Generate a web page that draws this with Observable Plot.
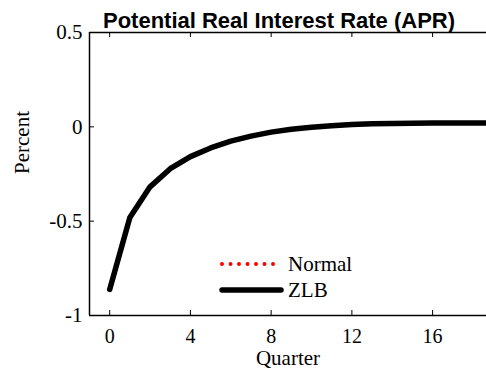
<!DOCTYPE html>
<html><head><meta charset="utf-8">
<script src="https://cdn.jsdelivr.net/npm/d3@7"></script>
<script src="https://cdn.jsdelivr.net/npm/@observablehq/plot@0.6"></script>
<style>
body{margin:0;background:#fff;}
#wrap{position:relative;width:486px;height:371px;overflow:hidden;}
#legend{position:absolute;left:218px;top:251px;font-family:"Liberation Serif","Times New Roman",serif;font-size:21px;color:#000;}
#legend .row{display:flex;align-items:center;height:26px;}
#legend svg{margin-right:2px;}
</style>
</head><body>
<div id="wrap"><div id="legend"></div></div>
<script>
const quarters = [0,1,2,3,4,5,6,7,8,9,10,11,12,13,14,15,16,17,18,19];
const normal = [-0.862,-0.48,-0.318,-0.222,-0.158,-0.112,-0.076,-0.049,-0.028,-0.013,-0.002,0.006,0.012,0.016,0.018,0.019,0.02,0.02,0.02,0.02];
const zlb    = [-0.862,-0.48,-0.318,-0.222,-0.158,-0.112,-0.076,-0.049,-0.028,-0.013,-0.002,0.006,0.012,0.016,0.018,0.019,0.02,0.02,0.02,0.02];
const xTicks = [0,4,8,12,16];
const yTicks = [-1,-0.5,0,0.5];
const yTickLabels = ["-1","-0.5","0","0.5"];
const seriesNames = ["Normal","ZLB"];
const titleText = "Potential Real Interest Rate (APR)";

const rowsN = quarters.map((q,i)=>({q, v: normal[i]}));
const rowsZ = quarters.map((q,i)=>({q, v: zlb[i]}));
const serif = "Liberation Serif, Times New Roman, serif";
const H = 371, W = 486, mT = 32, mB = 56, mL = 89, mR = 0;
const ih = H - mT - mB, iw = W - mL - mR;

const chart = Plot.plot({
  width: W, height: H,
  marginTop: mT, marginBottom: mB, marginLeft: mL, marginRight: mR,
  style: {fontFamily: serif, fontSize: "20px", background: "white", color: "black", overflow: "visible"},
  x: {domain: [-1, 18.67]},
  y: {domain: [-1, 0.5]},
  marks: [
    Plot.line(rowsN, {x: "q", y: "v", stroke: "#ff0000", strokeWidth: 3.5, strokeDasharray: "0,6", strokeLinecap: "round"}),
    Plot.line(rowsZ, {x: "q", y: "v", stroke: "black", strokeWidth: 5.5, strokeLinecap: "round", strokeLinejoin: "round"}),
    Plot.ruleX([-1], {stroke: "black", strokeWidth: 1.5}),
    Plot.ruleY([-1], {stroke: "black", strokeWidth: 1.5}),
    Plot.ruleY([0.5], {stroke: "black", strokeWidth: 1.5}),
    Plot.tickX(xTicks, {x: d=>d, insetTop: ih - 5, stroke: "black"}),
    Plot.tickX(xTicks, {x: d=>d, insetBottom: ih - 5, stroke: "black"}),
    Plot.tickY(yTicks, {y: d=>d, insetRight: iw - 5, stroke: "black"}),
    Plot.axisX(xTicks, {tickSize: 0, tickPadding: 13, fontSize: 20, label: null}),
    Plot.axisY(yTicks, {tickSize: 0, tickPadding: 7, fontSize: 21, label: null, tickFormat: (d,i)=>yTickLabels[i]}),
    Plot.text(["Quarter"], {frameAnchor: "bottom", lineAnchor: "middle", dy: 43, fontSize: 21, fontFamily: serif}),
    Plot.text(["Percent"], {frameAnchor: "left", dx: -67, rotate: -90, fontSize: 21, fontFamily: serif}),
    Plot.text([titleText], {frameAnchor: "top", lineAnchor: "bottom", dy: -5, dx: -9, fontSize: 22, fontWeight: "bold", fontFamily: "Liberation Sans, Arial, sans-serif"})
  ]
});
document.getElementById("wrap").prepend(chart);

const leg = document.getElementById("legend");
const styles = [
  {stroke:"#ff0000", width:4, dash:"0,8.5"},
  {stroke:"black", width:5.5, dash:null}
];
seriesNames.forEach((name,i)=>{
  const row = document.createElement("div"); row.className="row";
  const s = styles[i];
  row.innerHTML = `<svg width="68" height="12"><line x1="4" y1="6" x2="63" y2="6" stroke="${s.stroke}" stroke-width="${s.width}" stroke-linecap="round" ${s.dash?`stroke-dasharray="${s.dash}"`:""}/></svg><span>${name}</span>`;
  leg.appendChild(row);
});
</script>
</body></html>
